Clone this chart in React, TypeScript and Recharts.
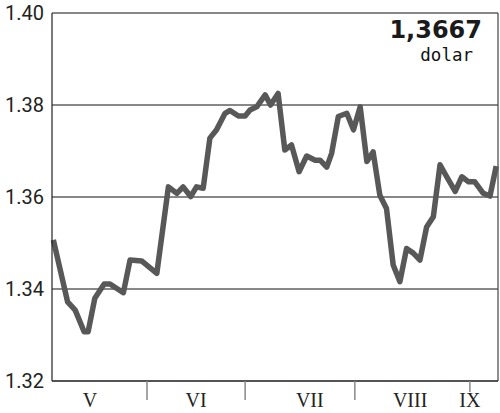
import React from 'react';
import { LineChart, Line, XAxis, YAxis, CartesianGrid, ReferenceLine } from 'recharts';

// Day position (0..100 across the period) and EUR/USD rate
const days = [
  0.3, 3.5, 5.2, 7.2, 8.1, 9.6, 11.7, 13.0, 16.0, 17.5, 20.1, 23.5, 26.1, 28.0, 29.4, 31.1,
  32.4, 33.9, 35.4, 36.9, 38.8, 39.9, 41.8, 43.3, 44.4, 45.9, 47.8, 49.0, 50.7, 52.2, 53.7,
  55.4, 57.1, 59.0, 60.1, 61.6, 62.7, 64.2, 66.1, 67.6, 69.1, 70.6, 72.0, 73.5, 75.0, 76.5,
  78.0, 79.5, 81.0, 82.5, 84.0, 85.5, 87.0, 88.5, 90.4, 91.9, 93.4, 94.8, 96.7, 98.2, 99.6,
];
const rates = [
  1.3507, 1.3372, 1.3354, 1.3307, 1.3307, 1.338, 1.3411, 1.3411, 1.3392, 1.3463, 1.3461,
  1.3434, 1.3622, 1.3608, 1.3622, 1.3601, 1.3622, 1.3619, 1.3728, 1.3746, 1.3782, 1.3788,
  1.3776, 1.3776, 1.3789, 1.3796, 1.3822, 1.38, 1.3825, 1.3702, 1.3713, 1.3655, 1.3689,
  1.368, 1.368, 1.3665, 1.3695, 1.3775, 1.3782, 1.3746, 1.3796, 1.3677, 1.3698, 1.3604,
  1.3575, 1.3452, 1.3416, 1.3488, 1.3478, 1.3463, 1.3535, 1.3557, 1.367, 1.3644, 1.3612,
  1.3644, 1.3633, 1.3633, 1.3608, 1.3602, 1.3667,
];
const yTicks = [1.32, 1.34, 1.36, 1.38, 1.4];
const monthBoundaries = [21.3, 43.3, 67.9, 93.7];
const monthLabels = ['V', 'VI', 'VII', 'VIII', 'IX'];
const monthLabelPos = [8.5, 32.3, 57.8, 80.3, 93.7];
const latestValue = '1,3667';
const unitLabel = 'dolar';

const data = days.map((d, i) => ({ day: d, rate: rates[i] }));
const xTicks = Array.from(new Set([...monthBoundaries, ...monthLabelPos])).sort((a, b) => a - b);

const MonthTick = (props: any) => {
  const { x, payload } = props;
  const v = payload.value;
  const isBoundary = monthBoundaries.includes(v);
  const li = monthLabelPos.indexOf(v);
  const axisY = 381;
  return (
    <g>
      {isBoundary && (
        <line x1={x} y1={axisY} x2={x} y2={li >= 0 ? axisY + 11 : axisY + 19} stroke="#888" strokeWidth={1.5} />
      )}
      {li >= 0 && (
        <text x={x} y={407} textAnchor="middle" fontFamily="'Liberation Serif', serif" fontSize={20} fill="#222">
          {monthLabels[li]}
        </text>
      )}
    </g>
  );
};

export default function App() {
  return (
    <div style={{ position: 'absolute', left: 0, top: 0, width: 500, height: 413, background: '#fff' }}>
      <LineChart width={500} height={413} data={data} margin={{ top: 13, right: 2, bottom: 0, left: 0 }}>
        <CartesianGrid vertical={false} stroke="#111" strokeWidth={1} />
        <XAxis
          dataKey="day"
          type="number"
          domain={[0, 100]}
          ticks={xTicks}
          interval={0}
          height={32}
          axisLine={{ stroke: '#222', strokeWidth: 1.2 }}
          tickLine={false}
          tick={<MonthTick />}
        />
        <YAxis
          type="number"
          domain={[1.32, 1.4]}
          ticks={yTicks}
          width={52}
          interval={0}
          tickSize={0}
          tickMargin={8}
          axisLine={{ stroke: '#222', strokeWidth: 1.2 }}
          tickLine={false}
          tickFormatter={(v: number) => v.toFixed(2)}
          tick={{ fontFamily: 'Roboto', fontSize: 20, fill: '#222' }}
        />
        <ReferenceLine x={100} stroke="#444" strokeWidth={1.2} />
        <Line
          type="linear"
          dataKey="rate"
          stroke="#585858"
          strokeWidth={5.5}
          strokeLinejoin="round"
          dot={false}
          isAnimationActive={false}
        />
      </LineChart>
      <svg width={500} height={413} style={{ position: 'absolute', left: 0, top: 0, pointerEvents: 'none' }}>
        <text x={482} y={38} textAnchor="end" fontFamily="'DejaVu Sans'" fontWeight="bold" fontSize={24} fill="#1a1a1a">
          {latestValue}
        </text>
        <text x={473} y={61} textAnchor="end" fontFamily="'DejaVu Sans Mono'" fontSize={17.5} fill="#111">
          {unitLabel}
        </text>
      </svg>
    </div>
  );
}
